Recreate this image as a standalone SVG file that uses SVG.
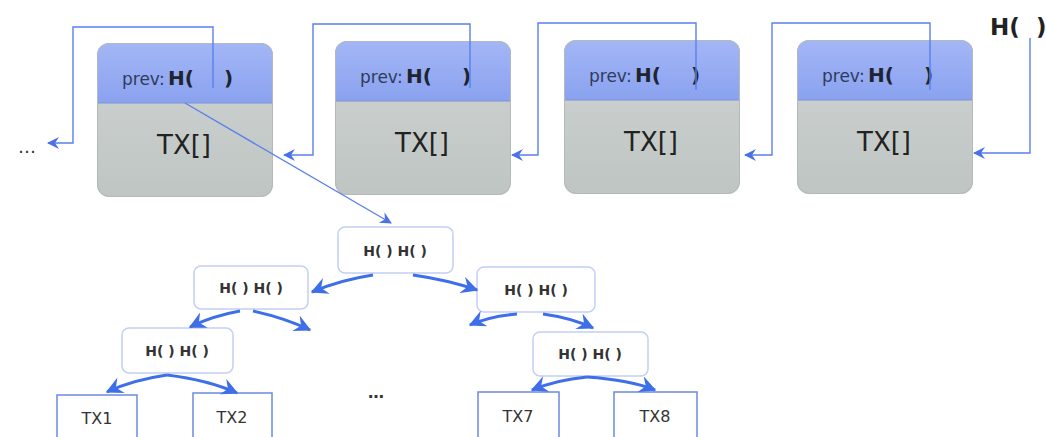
<svg xmlns="http://www.w3.org/2000/svg" width="1046" height="437" viewBox="0 0 1046 437">
  <defs>
    <linearGradient id="hdr" x1="0" y1="0" x2="0" y2="1">
      <stop offset="0" stop-color="#a3b6f6"/>
      <stop offset="1" stop-color="#8aa2ef"/>
    </linearGradient>
    <linearGradient id="body" x1="0" y1="0" x2="0" y2="1">
      <stop offset="0" stop-color="#cfd4d2"/>
      <stop offset="1" stop-color="#bfc5c3"/>
    </linearGradient>
    <clipPath id="blk"><rect x="0" y="0" width="176" height="154" rx="12"/></clipPath>
    <marker id="thin" viewBox="0 0 12 12" refX="11" refY="6" markerWidth="12" markerHeight="12" markerUnits="userSpaceOnUse" orient="auto">
      <path d="M0,0 L12,6 L0,12 L4,6 Z" fill="#4a72e6"/>
    </marker>
    <marker id="thick" viewBox="0 0 12 12" refX="11" refY="6" markerWidth="17" markerHeight="17" markerUnits="userSpaceOnUse" orient="auto">
      <path d="M0,0 L12,6 L0,12 L4,6 Z" fill="#3f6fe8"/>
    </marker>
    <g id="block">
      <g clip-path="url(#blk)">
        <rect x="0" y="0" width="176" height="154" fill="url(#body)"/>
        <rect x="0" y="0" width="176" height="60" fill="url(#hdr)"/>
        <line x1="0" y1="60" x2="176" y2="60" stroke="#7d93d8" stroke-width="1"/>
      </g>
      <rect x="0.5" y="0.5" width="175" height="153" rx="12" fill="none" stroke="#b3bab8" stroke-width="1"/>
      <text x="25" y="42" class="prev">prev:<tspan x="71" class="hb">H(</tspan><tspan x="127" class="hb">)</tspan></text>
      <text x="87" y="111" class="tx">TX[]</text>
    </g>
  </defs>
  <style>
    text { font-family: "DejaVu Sans", "Liberation Sans", sans-serif; }
    .prev { font-size: 17px; fill: #2f3b5c; }
    .hb { font-size: 20px; fill: #1e2430; font-weight: bold; }
    .tx { font-size: 26px; fill: #222; text-anchor: middle; }
    .hh { font-size: 14px; fill: #333; text-anchor: middle; font-weight: bold; }
    .leaf { font-size: 16px; fill: #333; text-anchor: middle; }
    .hnode { fill: #ffffff; stroke: #c2d0f2; stroke-width: 1.5; }
    .txnode { fill: #ffffff; stroke: #6c8be0; stroke-width: 1.5; }
    .link { fill: none; stroke: #5a80ea; stroke-width: 1.4; }
    .edge { fill: none; stroke: #3f6fe8; stroke-width: 3; }
  </style>

  <rect width="1046" height="437" fill="#ffffff"/>

  <!-- blocks of the chain -->
  <g id="block1"><use href="#block" x="97" y="43"/></g>
  <g id="block2"><use href="#block" x="335" y="41"/></g>
  <g id="block3"><use href="#block" x="564" y="40"/></g>
  <g id="block4"><use href="#block" x="797" y="40"/></g>

  <!-- hash of the newest block -->
  <g id="head"><text x="990" y="35" style="font-size:23px;fill:#222;font-weight:bold;">H(<tspan x="1036">)</tspan></text></g>
  <g id="dots-left"><text x="18" y="153" style="font-size:18px;fill:#333;">…</text></g>

  <!-- merkle tree nodes -->
  <g id="root"><rect class="hnode" x="338" y="227" width="115" height="46" rx="7"/><text class="hh" x="395" y="256">H( ) H( )</text></g>
  <g id="l1a"><rect class="hnode" x="194" y="266" width="114" height="43" rx="7"/><text class="hh" x="251" y="293">H( ) H( )</text></g>
  <g id="l1b"><rect class="hnode" x="477" y="267" width="118" height="45" rx="7"/><text class="hh" x="536" y="295">H( ) H( )</text></g>
  <g id="l2a"><rect class="hnode" x="122" y="328" width="111" height="45" rx="7"/><text class="hh" x="177" y="356">H( ) H( )</text></g>
  <g id="l2b"><rect class="hnode" x="533" y="332" width="115" height="44" rx="7"/><text class="hh" x="590" y="359">H( ) H( )</text></g>
  <g id="tx1"><rect class="txnode" x="57" y="395" width="80" height="50"/><text class="leaf" x="97" y="424">TX1</text></g>
  <g id="tx2"><rect class="txnode" x="193" y="393" width="79" height="50"/><text class="leaf" x="232" y="423">TX2</text></g>
  <g id="tx7"><rect class="txnode" x="478" y="392" width="81" height="50"/><text class="leaf" x="518" y="422">TX7</text></g>
  <g id="tx8"><rect class="txnode" x="614" y="392" width="83" height="50"/><text class="leaf" x="655" y="422">TX8</text></g>
  <g id="dots-mid"><text x="376" y="398" style="font-size:16px;fill:#333;text-anchor:middle;font-weight:bold;">…</text></g>

  <!-- connectors -->
  <g id="connectors">
    <!-- prev pointers -->
    <polyline class="link" points="213,88 213,27 73,27 73,143 48,143" marker-end="url(#thin)"/>
    <polyline class="link" points="470,88 470,24 313,24 313,155 284,155" marker-end="url(#thin)"/>
    <polyline class="link" points="696,90 696,23 538,23 538,155 512,155" marker-end="url(#thin)"/>
    <polyline class="link" points="930,90 930,23 772,23 772,155 745,155" marker-end="url(#thin)"/>
    <polyline class="link" points="1030,38 1030,153 974,153" marker-end="url(#thin)"/>
    <!-- block to merkle root -->
    <line class="link" x1="185" y1="103" x2="391" y2="223" marker-end="url(#thin)"/>
    <!-- tree edges -->
    <path class="edge" d="M373,275 Q340,280 312,292" marker-end="url(#thick)"/>
    <path class="edge" d="M413,275 Q448,280 477,290" marker-end="url(#thick)"/>
    <path class="edge" d="M240,311 Q212,316 190,327" marker-end="url(#thick)"/>
    <path class="edge" d="M253,311 Q285,318 310,330" marker-end="url(#thick)"/>
    <path class="edge" d="M517,314 Q490,316 470,325" marker-end="url(#thick)"/>
    <path class="edge" d="M543,314 Q572,318 593,328" marker-end="url(#thick)"/>
    <path class="edge" d="M167,375 Q132,380 107,392" marker-end="url(#thick)"/>
    <path class="edge" d="M167,375 Q208,380 237,393" marker-end="url(#thick)"/>
    <path class="edge" d="M587,377 Q556,380 532,390" marker-end="url(#thick)"/>
    <path class="edge" d="M587,377 Q630,380 655,390" marker-end="url(#thick)"/>
  </g>
</svg>
